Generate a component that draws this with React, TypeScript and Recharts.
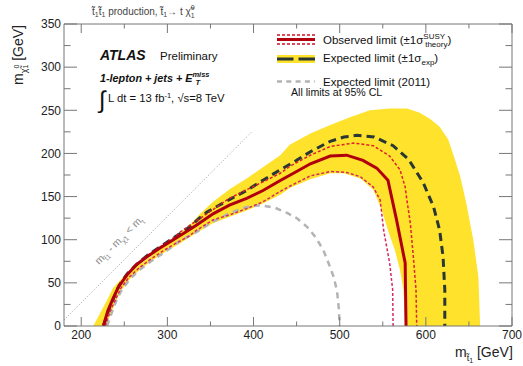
import React from 'react';
import { ComposedChart, Line, Area, XAxis, YAxis } from 'recharts';

// ---- data (x = stop mass [GeV], y = neutralino mass [GeV]) ----
const observedLimit: number[][] = [
  [225.6, 0], [231, 18], [237, 32], [243, 45], [253, 59], [264, 71], [276, 80], [291, 90],
  [307, 100], [320, 108], [334, 117], [353, 130], [372, 140], [392, 148], [411, 157],
  [430, 168], [450, 179], [466, 188], [489, 197], [508, 198], [527, 192], [543, 183],
  [556, 169], [566, 123], [576, 73], [577, 0],
];
const observedPlus: number[][] = [
  [226, 0], [232, 19], [238, 33], [244, 47], [253, 60], [265, 72], [277, 82], [292, 92],
  [307, 102], [315, 109], [334, 122], [353, 135], [372, 148], [392, 158], [411, 167],
  [431, 177], [442, 185], [466, 198], [489, 208], [516, 212], [539, 209], [558, 197],
  [570, 181], [576, 161], [578, 146], [582, 119], [585.5, 80], [588.6, 42], [589.4, 0],
];
const observedMinus: number[][] = [
  [228, 0], [234, 18], [240, 31], [246, 44], [256, 57], [268, 68], [280, 77], [295, 87],
  [310, 96], [325, 104], [334, 111], [353, 123], [373, 129], [392, 136], [411, 144],
  [431, 156], [442, 162], [450, 166], [466, 174], [489, 179], [508, 178], [524, 173],
  [539, 161], [547, 146], [551, 111], [558, 73], [561.5, 42], [562, 0],
];
const expectedLimit: number[][] = [
  [226, 0], [232, 19], [238, 33], [244, 47], [253, 60], [265, 72], [277, 82], [292, 92],
  [307, 102], [322, 112], [336, 124], [346, 132], [360, 140], [373, 147], [392, 157],
  [411, 169], [431, 181], [450, 192], [466, 202], [489, 214], [505, 219], [520, 221],
  [540, 219], [562, 209], [580, 193], [597, 166], [609, 138], [616, 111], [620, 80],
  [622, 42], [622, 0],
];
const expectedBandOuter: number[][] = [
  [214, 0], [222, 15], [230, 30], [237, 44], [249, 57], [264, 69], [280, 80], [299, 96],
  [315, 108], [326, 117], [338, 130], [353, 144], [373, 159], [392, 171], [408, 182],
  [431, 198], [442, 210], [466, 223], [489, 233], [512, 242], [535, 250], [558, 252],
  [578, 252], [593, 247], [605, 240], [616, 231], [626, 216], [634, 192], [640, 173],
  [647, 142], [655, 100], [661, 57], [663, 0],
];
const expectedBandInner: number[][] = [
  [576, 0], [574, 42], [570, 65], [564, 88], [556, 111], [549, 134], [539, 158], [524, 171],
  [505, 177], [489, 177], [466, 170], [442, 160], [431, 152], [411, 142], [392, 134],
  [373, 127], [353, 119], [334, 108], [315, 96], [296, 85], [281, 75], [269, 66],
  [257, 55], [247, 42], [241, 30], [235, 16], [228, 0],
];
const expected2011: number[][] = [
  [230, 0], [236, 17], [241, 30], [247, 42], [257, 55], [269, 66], [281, 75], [296, 85],
  [315, 99], [334, 109], [353, 121], [373, 131], [392, 138], [408, 140], [425, 137],
  [439, 131], [450, 125], [462, 115], [472, 103], [481, 88], [487, 73], [493, 57],
  [497, 40], [499, 20], [500, 0],
];
const kinematicLimit: number[][] = [[180, 7], [398, 225]];

const xTicks = [200, 250, 300, 350, 400, 450, 500, 550, 600, 650, 700];
const yTicks = [0, 25, 50, 75, 100, 125, 150, 175, 200, 225, 250, 275, 300, 325, 350];

const toPts = (a: number[][]) => a.map(([x, y]) => ({ x, y }));
const bandPts = toPts([...expectedBandOuter, ...expectedBandInner]);

const FONT = '"Liberation Sans", Arial, Helvetica, sans-serif';
const AXIS = '#777';

const BottomTick = (p: any) => {
  const v = p.payload.value;
  const major = v % 100 === 0;
  return (
    <g>
      <line x1={p.x} y1={p.y} x2={p.x} y2={p.y - (major ? 9 : 4.5)} stroke={AXIS} />
      {major && (
        <text x={p.x} y={p.y + 13} textAnchor="middle" fontSize={12} fill="#222" fontFamily={FONT}>{v}</text>
      )}
    </g>
  );
};
const TopTick = (p: any) => {
  const v = p.payload.value;
  const major = v % 100 === 0;
  return <line x1={p.x} y1={p.y} x2={p.x} y2={p.y + (major ? 9 : 4.5)} stroke={AXIS} />;
};
const LeftTick = (p: any) => {
  const v = p.payload.value;
  const major = v % 50 === 0;
  return (
    <g>
      <line x1={p.x} y1={p.y} x2={p.x + (major ? 13 : 6.5)} y2={p.y} stroke={AXIS} />
      {major && (
        <text x={p.x - 3} y={p.y + 4.3} textAnchor="end" fontSize={12} fill="#222" fontFamily={FONT}>{v}</text>
      )}
    </g>
  );
};
const RightTick = (p: any) => {
  const v = p.payload.value;
  const major = v % 50 === 0;
  return <line x1={p.x} y1={p.y} x2={p.x - (major ? 13 : 6.5)} y2={p.y} stroke={AXIS} />;
};

const T = 't\u0303';
const CHI = '\u03c7\u0303';

export default function App() {
  return (
    <div style={{ position: 'absolute', left: 0, top: 0, width: 523, height: 366, background: '#fff' }}>
      <ComposedChart width={523} height={366} margin={{ top: 23, right: 10, bottom: 10, left: 4 }}>
        <XAxis dataKey="x" type="number" domain={[180, 700]} ticks={xTicks} interval={0}
          tick={(p: any) => <BottomTick {...p} />} tickLine={false} tickSize={0} tickMargin={0}
          axisLine={{ stroke: AXIS }} height={30} allowDataOverflow />
        <XAxis xAxisId="top" orientation="top" dataKey="x" type="number" domain={[180, 700]} ticks={xTicks} interval={0}
          tick={(p: any) => <TopTick {...p} />} tickLine={false} tickSize={0} tickMargin={0}
          axisLine={{ stroke: AXIS }} height={1} allowDataOverflow />
        <YAxis type="number" domain={[0, 350]} ticks={yTicks} interval={0}
          tick={(p: any) => <LeftTick {...p} />} tickLine={false} tickSize={0} tickMargin={0}
          axisLine={{ stroke: AXIS }} width={60} allowDataOverflow />
        <YAxis yAxisId="right" orientation="right" type="number" domain={[0, 350]} ticks={yTicks} interval={0}
          tick={(p: any) => <RightTick {...p} />} tickLine={false} tickSize={0} tickMargin={0}
          axisLine={{ stroke: AXIS }} width={1} allowDataOverflow />

        <Area data={bandPts} dataKey="y" type="linear" baseValue={0} stroke="none" fill="#ffe22b"
          fillOpacity={1} dot={false} activeDot={false} isAnimationActive={false} />
        <Line data={toPts(kinematicLimit)} dataKey="y" type="linear" stroke="#999" strokeWidth={1}
          strokeDasharray="1 2" dot={false} activeDot={false} isAnimationActive={false} />
        <Line data={toPts(expected2011)} dataKey="y" type="linear" stroke="#b3b3b3" strokeWidth={2.5}
          strokeDasharray="6 5" dot={false} activeDot={false} isAnimationActive={false} />
        <Line data={toPts(expectedLimit)} dataKey="y" type="linear" stroke="#2a3734" strokeWidth={3}
          strokeDasharray="8 5" dot={false} activeDot={false} isAnimationActive={false} />
        <Line data={toPts(observedPlus)} dataKey="y" type="linear" stroke="#e0202c" strokeWidth={1.5}
          strokeDasharray="3 2" dot={false} activeDot={false} isAnimationActive={false} />
        <Line data={toPts(observedMinus)} dataKey="y" type="linear" stroke="#d8285e" strokeWidth={1.5}
          strokeDasharray="3 2" dot={false} activeDot={false} isAnimationActive={false} />
        <Line data={toPts(observedLimit)} dataKey="y" type="linear" stroke="#b0000e" strokeWidth={3}
          dot={false} activeDot={false} isAnimationActive={false} />
      </ComposedChart>

      <svg width={523} height={366} style={{ position: 'absolute', left: 0, top: 0, pointerEvents: 'none' }}
        fontFamily={FONT}>
        {/* process title */}
        <text x={92} y={15} fontSize={10} fill="#444">
          {T}<tspan fontSize={7} dy={2}>1</tspan><tspan dy={-2}>{T}</tspan><tspan fontSize={7} dy={2}>1</tspan>
          <tspan dy={-2}> production, {T}</tspan><tspan fontSize={7} dy={2}>1</tspan>
          <tspan dy={-2}>{'\u2192 t '}{CHI}</tspan><tspan fontSize={7} dy={-5}>0</tspan>
          <tspan fontSize={7} dx={-3.9} dy={8}>1</tspan>
        </text>

        {/* y axis title */}
        <g transform="translate(23,85) rotate(-90)">
          <text x={0} y={0} fontSize={14} fill="#222">
            m<tspan fontSize={9} dy={4}>{CHI}</tspan><tspan fontSize={7} dy={-8}>0</tspan>
            <tspan fontSize={7} dx={-3.9} dy={9}>1</tspan><tspan fontSize={14} dy={-5}> [GeV]</tspan>
          </text>
        </g>

        {/* x axis title */}
        <text x={455} y={357} fontSize={14} fill="#222">
          m<tspan fontSize={9} dy={4}>{T}</tspan><tspan fontSize={7} dy={2}>1</tspan>
          <tspan fontSize={14} dy={-6}> [GeV]</tspan>
        </text>

        {/* ATLAS labels */}
        <text x={100} y={60} fontSize={14} fontWeight="bold" fontStyle="italic" fill="#111">ATLAS</text>
        <text x={160} y={60} fontSize={11.5} fill="#111">Preliminary</text>
        <text x={100} y={82} fontSize={10.8} fontWeight="bold" fontStyle="italic" fill="#111">
          1-lepton + jets + E<tspan fontSize={7.5} dy={-5}>miss</tspan>
          <tspan fontSize={7.5} dx={-14} dy={8}>T</tspan>
        </text>
        <text x={99} y={108} fontSize={24} fill="#111">{'\u222b'}</text>
        <text x={108} y={101.5} fontSize={11.3} fill="#111">
          L dt = 13 fb<tspan fontSize={7.5} dy={-4}>-1</tspan><tspan dy={4}>, </tspan>
          <tspan>{'\u221a'}s=8 TeV</tspan>
        </text>

        {/* kinematic label */}
        <g transform="translate(99,265) rotate(-45)">
          <text x={0} y={0} fontSize={10.5} fill="#888">
            m<tspan fontSize={7} dy={3}>{T}1</tspan><tspan dy={-3}> - m</tspan>
            <tspan fontSize={7} dy={3}>{CHI}1</tspan><tspan dy={-3}> &lt; m</tspan>
            <tspan fontSize={7} dy={3}>t</tspan>
          </text>
        </g>

        {/* legend */}
        <line x1={277} y1={35} x2={315} y2={35} stroke="#d0102a" strokeWidth={1.5} strokeDasharray="3 2" />
        <line x1={277} y1={39.5} x2={315} y2={39.5} stroke="#b0000e" strokeWidth={3} />
        <line x1={277} y1={44} x2={315} y2={44} stroke="#d0102a" strokeWidth={1.5} strokeDasharray="3 2" />
        <text x={323} y={44} fontSize={11.5} fill="#111">
          Observed limit ({'\u00b1'}1{'\u03c3'}<tspan fontSize={8} dy={-5}>SUSY</tspan>
          <tspan fontSize={8} dx={-20} dy={8}>theory</tspan><tspan fontSize={11.5} dy={-3}>)</tspan>
        </text>

        <rect x={277} y={55} width={38} height={8} fill="#ffe22b" />
        <line x1={277} y1={59} x2={315} y2={59} stroke="#2a3734" strokeWidth={3} strokeDasharray="16.5 5" />
        <text x={323} y={62} fontSize={11.5} fill="#111">
          Expected limit ({'\u00b1'}1{'\u03c3'}<tspan fontSize={8} dy={3}>exp</tspan><tspan fontSize={11.5} dy={-3}>)</tspan>
        </text>

        <line x1={277} y1={81.5} x2={315} y2={81.5} stroke="#b3b3b3" strokeWidth={2.5} strokeDasharray="5 4.3" />
        <text x={323} y={85.5} fontSize={11.5} fill="#111">Expected limit (2011)</text>

        <text x={291} y={96} fontSize={10.6} fill="#111">All limits at 95% CL</text>
      </svg>
    </div>
  );
}
